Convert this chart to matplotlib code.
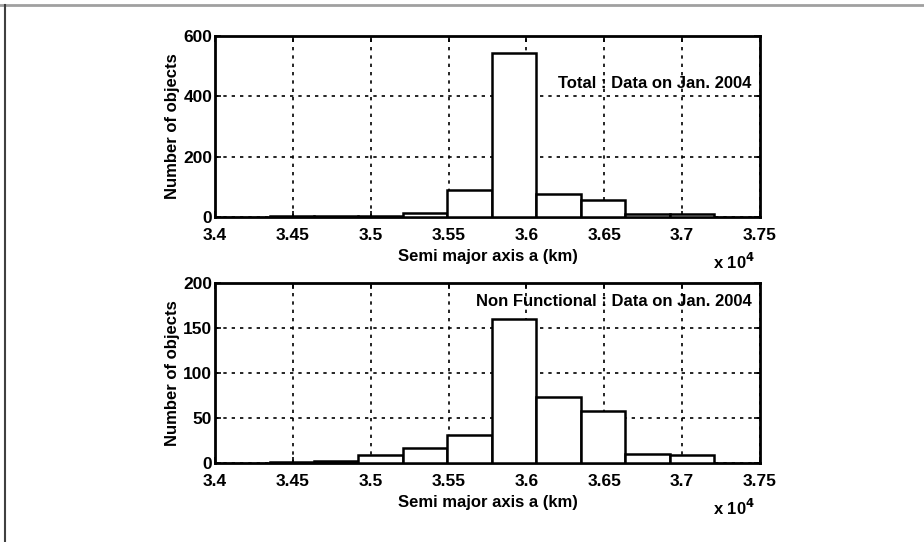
import matplotlib
matplotlib.use("Agg")
import matplotlib.pyplot as plt
from matplotlib.lines import Line2D

bin_edges = [34350, 34636, 34921, 35207, 35492, 35778, 36063, 36349, 36634, 36920, 37205]
total_counts = [2, 2, 4, 13, 90, 545, 75, 58, 10, 9]
nonfunc_counts = [2, 3, 9, 17, 31, 160, 74, 58, 10, 9]

x_ticks = [34000, 34500, 35000, 35500, 36000, 36500, 37000, 37500]
x_tick_labels = ["3.4", "3.45", "3.5", "3.55", "3.6", "3.65", "3.7", "3.75"]
top_yticks = [0, 200, 400, 600]
bot_yticks = [0, 50, 100, 150, 200]

plt.rcParams['font.family'] = ['Liberation Sans', 'DejaVu Sans']
plt.rcParams['font.weight'] = 'bold'

fig = plt.figure(figsize=(9.24, 5.42), dpi=100)

# image border
fig.add_artist(Line2D([0, 1], [1 - 4.5/542, 1 - 4.5/542], transform=fig.transFigure,
                      color='#a0a0a0', lw=2))
fig.add_artist(Line2D([4.5/924, 4.5/924], [0, 1 - 4.5/542], transform=fig.transFigure,
                      color='#404040', lw=1.5))

def draw(ax, counts, yticks, ymax, label, label_y):
    lefts = bin_edges[:-1]
    widths = [bin_edges[i+1] - bin_edges[i] for i in range(len(counts))]
    ax.bar(lefts, counts, width=widths, align='edge', facecolor='white',
           edgecolor='black', linewidth=1.8, zorder=3)
    ax.set_xlim(34000, 37500)
    ax.set_ylim(0, ymax)
    ax.set_xticks(x_ticks)
    ax.set_xticklabels(x_tick_labels)
    ax.set_yticks(yticks)
    ax.grid(True, color='black', linestyle=(0, (2, 3)), linewidth=1.2, zorder=1)
    ax.tick_params(direction='in', top=True, right=True, length=4, width=1.2,
                   labelsize=12.5)
    ax.tick_params(axis='x', pad=8)
    ax.tick_params(axis='y', pad=2)
    for lbl in ax.get_xticklabels() + ax.get_yticklabels():
        lbl.set_fontweight('bold')
    for s in ax.spines.values():
        s.set_linewidth(2)
    ax.set_xlabel("Semi major axis a (km)", fontsize=12, fontweight='bold', labelpad=4)
    ax.set_ylabel("Number of objects", fontsize=12, fontweight='bold', labelpad=2)
    ax.text(0.985, label_y, label, transform=ax.transAxes,
            ha='right', va='center', fontsize=12, fontweight='bold', zorder=5)
    ax.text(0.99, -0.25, r"x 10$^{4}$", transform=ax.transAxes, ha='right', va='center',
            fontsize=12, fontweight='bold')

ax1 = fig.add_axes([0.2327, 0.5996, 0.5898, 0.334])
draw(ax1, total_counts, top_yticks, 600, "Total : Data on Jan. 2004", 0.74)
ax2 = fig.add_axes([0.2327, 0.1452, 0.5898, 0.332])
draw(ax2, nonfunc_counts, bot_yticks, 200, "Non Functional : Data on Jan. 2004", 0.9)

fig.savefig("out.png", dpi=100)
